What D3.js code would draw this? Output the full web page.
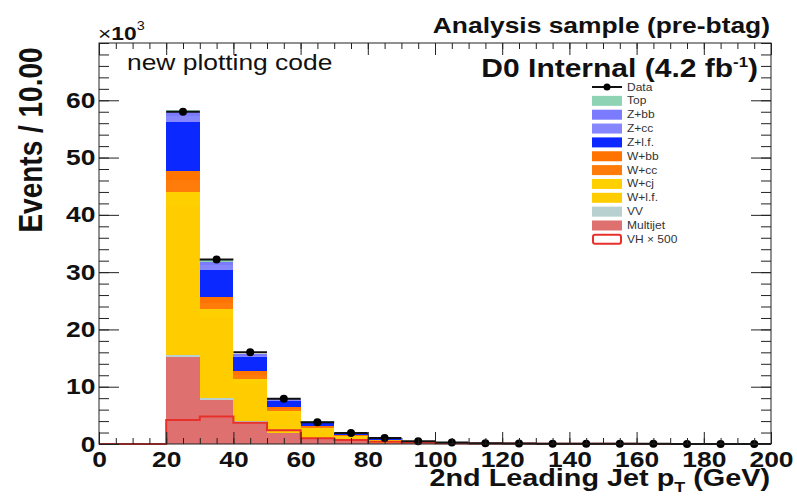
<!DOCTYPE html>
<html><head><meta charset="utf-8">
<script src="https://cdn.jsdelivr.net/npm/d3@7"></script>
<style>body{margin:0;background:#fff}svg{display:block}</style>
</head><body><svg id="c" width="797" height="500"></svg>
<script>
// ---- data (values in units of 10^3 events per 10 GeV bin) ----
const binEdges = [0,10,20,30,40,50,60,70,80,90,100,110,120,130,140,150,160,170,180,190];
const binWidth = 10;
const multijet = [0,0,15.2,7.7,3.9,1.9,0.9,0.45,0.22,0.11,0.05,0.03,0.02,0.015,0.01,0.008,0.006,0.004,0.003,0.002];
const vv       = [0,0,0.4,0.4,0.2,0.1,0.05,0.03,0.02,0.01,0.005,0.003,0.002,0.002,0.001,0.001,0.001,0.001,0,0];
const wlf      = [0,0,26,14,6.5,3.3,1.6,0.8,0.4,0.2,0.1,0.06,0.04,0.03,0.02,0.015,0.01,0.008,0.006,0.004];
const wcj      = [0,0,2.4,1.4,0.7,0.4,0.2,0.1,0.05,0.025,0.012,0.007,0.005,0.003,0.002,0.002,0.001,0.001,0.001,0.001];
const wcc      = [0,0,2.0,1.2,0.8,0.4,0.2,0.1,0.05,0.025,0.012,0.007,0.005,0.003,0.002,0.002,0.001,0.001,0.001,0.001];
const wbb      = [0,0,1.7,1.0,0.6,0.3,0.15,0.08,0.04,0.02,0.01,0.006,0.004,0.003,0.002,0.001,0.001,0.001,0.001,0.001];
const zlf      = [0,0,8.5,4.7,2.4,1.1,0.6,0.3,0.15,0.08,0.04,0.025,0.015,0.01,0.008,0.006,0.004,0.003,0.002,0.002];
const zcc      = [0,0,1.0,0.8,0.3,0.2,0.1,0.05,0.03,0.015,0.008,0.005,0.003,0.002,0.002,0.001,0.001,0.001,0.001,0];
const zbb      = [0,0,0.8,0.6,0.25,0.15,0.1,0.05,0.03,0.015,0.008,0.005,0.003,0.002,0.002,0.001,0.001,0.001,0.001,0];
const topq     = [0,0,0.3,0.3,0.1,0.1,0.05,0.04,0.02,0.01,0.005,0.003,0.002,0.002,0.001,0.001,0.001,0.001,0,0];
const vh500    = [0,0,4.2,4.8,3.7,2.4,1.0,0.7,0.4,0.25,0.15,0.1,0.07,0.05,0.04,0.03,0.02,0.02,0.01,0.01];
const dataVals = [null,null,58,32.2,16,7.9,3.8,1.9,1.05,0.5,0.25,0.12,0.08,0.06,0.05,0.04,0.03,0.02,0.02,0.01];
const xTicks = [0,20,40,60,80,100,120,140,160,180,200];
const yTicks = [0,10,20,30,40,50,60];

const seriesKeys  = ["Multijet","VV","W+l.f.","W+cj","W+cc","W+bb","Z+l.f.","Z+cc","Z+bb","Top"];
const seriesVals  = [multijet, vv, wlf, wcj, wcc, wbb, zlf, zcc, zbb, topq];
const colors = {"Top":"#8fd3b5","Z+bb":"#7b7bff","Z+cc":"#8686ff","Z+l.f.":"#0a28ff","W+bb":"#ff7400",
  "W+cc":"#ff7c0a","W+cj":"#ffd000","W+l.f.":"#ffcc00","VV":"#b9d0d0","Multijet":"#de7070"};
const legendItems = ["Data","Top","Z+bb","Z+cc","Z+l.f.","W+bb","W+cc","W+cj","W+l.f.","VV","Multijet","VH × 500"];
const vhColor = "#e8302a";

// ---- layout ----
const svg = d3.select("#c");
const L=99, R=771, T=43, B=444, SX=1.2;
const x = d3.scaleLinear().domain([0,200]).range([L,R]);
const y = d3.scaleLinear().domain([0,70]).range([B,T]);
const FONT = "'Liberation Sans', Arial, Helvetica, sans-serif";

const table = binEdges.map((e,i)=>{ const o={edge:e}; seriesKeys.forEach((k,j)=>o[k]=seriesVals[j][i]); return o; });
const stacked = d3.stack().keys(seriesKeys)(table);

const gStack = svg.append("g");
stacked.forEach(layer=>{
  gStack.selectAll(null).data(layer).join("rect")
    .attr("x", d=>x(d.data.edge))
    .attr("width", d=>x(d.data.edge+binWidth)-x(d.data.edge))
    .attr("y", d=>y(d[1]))
    .attr("height", d=>Math.max(0,y(d[0])-y(d[1])))
    .attr("fill", colors[layer.key])
    .attr("shape-rendering","crispEdges");
});

// VH x 500 step line
const vhPts = binEdges.map((e,i)=>[e,vh500[i]]).concat([[200, vh500[vh500.length-1]]]);
svg.append("path").datum(vhPts)
  .attr("d", d3.line().x(d=>x(d[0])).y(d=>y(d[1])).curve(d3.curveStepAfter))
  .attr("fill","none").attr("stroke",vhColor).attr("stroke-width",2);

// data points
const pts = binEdges.map((e,i)=>({e, v:dataVals[i]})).filter(d=>d.v!==null);
svg.append("g").selectAll("line").data(pts).join("line")
  .attr("x1",d=>x(d.e)).attr("x2",d=>x(d.e+binWidth))
  .attr("y1",d=>y(d.v)).attr("y2",d=>y(d.v))
  .attr("stroke","#111").attr("stroke-width",2);
svg.append("g").selectAll("circle").data(pts).join("circle")
  .attr("cx",d=>x(d.e+binWidth/2)).attr("cy",d=>y(d.v)).attr("r",4)
  .attr("fill","#000");

// axes
function styleAxis(g, labels){
  g.select(".domain").remove();
  g.selectAll("line").attr("stroke","#222").attr("stroke-width",1);
  if(!labels) g.selectAll("text").remove();
  else g.selectAll("text").attr("font-family",FONT).attr("font-weight","bold")
        .attr("font-size",22).attr("fill","#111")
        .attr("transform",`scale(${SX},1)`);
}
const xMinor = d3.range(0,201,5), yMinor = d3.range(0,71,2);
svg.append("g").attr("transform",`translate(0,${B})`)
  .call(d3.axisBottom(x).tickValues(xMinor).tickSize(-6).tickFormat("")).call(g=>styleAxis(g,false));
svg.append("g").attr("transform",`translate(0,${B})`)
  .call(d3.axisBottom(x).tickValues(xTicks).tickSize(-12).tickPadding(7).tickFormat(d3.format("d"))).call(g=>styleAxis(g,true));
svg.append("g").attr("transform",`translate(0,${T})`)
  .call(d3.axisTop(x).tickValues(xMinor).tickSize(-6)).call(g=>styleAxis(g,false));
svg.append("g").attr("transform",`translate(0,${T})`)
  .call(d3.axisTop(x).tickValues(xTicks).tickSize(-12)).call(g=>styleAxis(g,false));
svg.append("g").attr("transform",`translate(${L},0)`)
  .call(d3.axisLeft(y).tickValues(yMinor).tickSize(-10).tickFormat("")).call(g=>styleAxis(g,false));
svg.append("g").attr("transform",`translate(${L},0)`)
  .call(d3.axisLeft(y).tickValues(yTicks).tickSize(-20).tickPadding(3).tickFormat(d3.format("d"))).call(g=>styleAxis(g,true));
svg.append("g").attr("transform",`translate(${R},0)`)
  .call(d3.axisRight(y).tickValues(yMinor).tickSize(-10)).call(g=>styleAxis(g,false));
svg.append("g").attr("transform",`translate(${R},0)`)
  .call(d3.axisRight(y).tickValues(yTicks).tickSize(-20)).call(g=>styleAxis(g,false));

svg.append("rect").attr("x",L).attr("y",T).attr("width",R-L).attr("height",B-T)
  .attr("fill","none").attr("stroke","#222").attr("stroke-width",1);

// text helper (reference is horizontally stretched)
function txt(px,py,anchor,size,weight,extraTransform){
  const g = svg.append("g").attr("transform",`translate(${px},${py}) scale(${SX},1) ${extraTransform||""}`);
  return g.append("text").attr("text-anchor",anchor).attr("font-family",FONT)
    .attr("font-size",size).attr("font-weight",weight).attr("fill","#111");
}
txt(770,33,"end",22,"bold").text("Analysis sample (pre-btag)");
const d0 = txt(758,77,"end",25,"bold");
d0.append("tspan").text("D0 Internal (4.2 fb");
d0.append("tspan").attr("font-size",14).attr("dy",-10).text("-1");
d0.append("tspan").attr("dy",10).text(")");
txt(127,70,"start",22,"normal").text("new plotting code");
const ex = txt(98,40,"start",19,"bold");
ex.append("tspan").attr("font-weight","normal").text("×");
ex.append("tspan").text("10");
ex.append("tspan").attr("font-size",12).attr("dy",-10).attr("font-weight","normal").text("3");
txt(42,140,"middle",28,"bold","rotate(-90)").text("Events / 10.00");
const xl = txt(770,486,"end",24,"bold");
xl.append("tspan").text("2nd Leading Jet p");
xl.append("tspan").attr("font-size",15).attr("dy",6).text("T");
xl.append("tspan").attr("dy",-6).text(" (GeV)");

// legend
const lg = svg.append("g");
const lx=592, ly0=87, dy=13.85;
legendItems.forEach((name,i)=>{
  const cy = ly0 + i*dy;
  if(name==="Data"){
    lg.append("line").attr("x1",lx).attr("x2",lx+30).attr("y1",cy).attr("y2",cy).attr("stroke","#111").attr("stroke-width",2);
    lg.append("circle").attr("cx",lx+15).attr("cy",cy).attr("r",3.5).attr("fill","#000");
  } else if(name==="VH × 500"){
    lg.append("rect").attr("x",lx+1).attr("y",cy-4.5).attr("width",28).attr("height",9).attr("rx",2)
      .attr("fill","#fff").attr("stroke",vhColor).attr("stroke-width",2);
  } else {
    lg.append("rect").attr("x",lx).attr("y",cy-5).attr("width",30).attr("height",10).attr("fill",colors[name]);
  }
  lg.append("g").attr("transform",`translate(${lx+35},${cy+3.5}) scale(${SX},1)`)
    .append("text").attr("font-family",FONT).attr("font-size",10).attr("fill","#333").text(name);
});
</script></body></html>
